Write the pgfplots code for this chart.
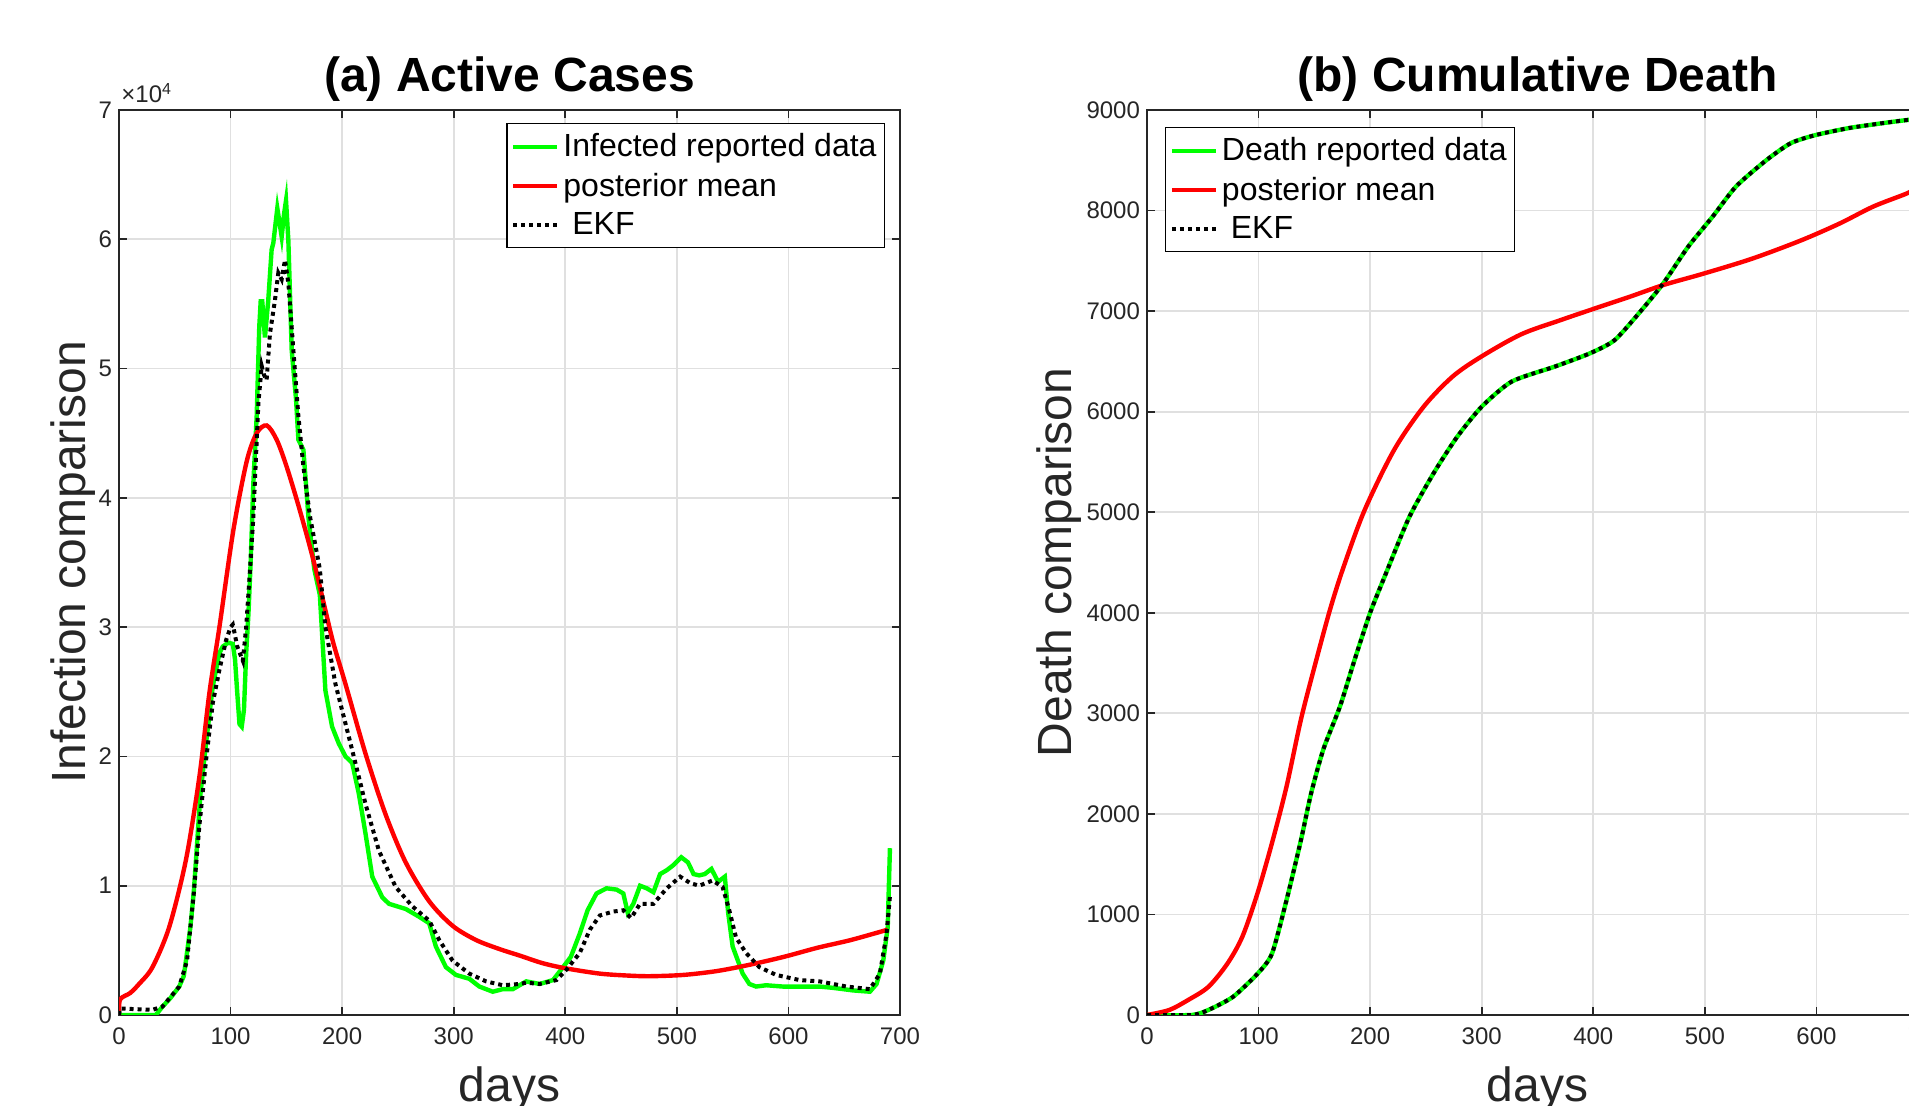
\documentclass[border=0pt]{standalone}
\usepackage{fontspec}
\setmainfont{Liberation Sans}
\usepackage{pgfplots}
\pgfplotsset{compat=1.18}
\definecolor{mgreen}{rgb}{0,1,0}
\definecolor{mred}{rgb}{1,0,0}
\definecolor{axgray}{rgb}{0.15,0.15,0.15}
\definecolor{gridgray}{rgb}{0.88,0.88,0.88}

\pgfplotsset{
  every axis title shift=0pt,
  mystyle/.style={
    scale only axis, width=390.5pt, height=452.5pt,
    clip mode=individual,
    xmin=0, xmax=700, xtick={0,100,...,700},
    axis line style={draw=axgray, line width=0.9pt},
    tick style={draw=axgray, line width=0.9pt},
    tick align=inside, tick pos=both, major tick length=4pt,
    grid=major, major grid style={draw=gridgray, line width=0.9pt},
    /pgf/number format/assume math mode=true,
    /pgf/number format/1000 sep={},
    ticklabel style={font=\fontsize{12}{14}\selectfont, text=axgray},
    xticklabel style={yshift=-2.75pt},
    title style={at={(axis description cs:0.5,1.02)}, anchor=base, font=\bfseries\fontsize{24}{28}\selectfont, text=black},
    every axis x label/.style={at={(axis description cs:0.5,-0.0961)}, anchor=base, font=\fontsize{24}{28}\selectfont, text=axgray},
    legend cell align=left,
    legend style={draw=black, line width=0.6pt, fill=white, font=\fontsize{16}{19}\selectfont, inner xsep=2pt, inner ysep=3pt, row sep=2.6pt},
    legend image code/.code={\draw[##1] (0pt,0pt) -- (22pt,0pt);},
  },
  grn/.style={color=mgreen, line width=2.2pt},
  rd/.style={color=mred, line width=2.2pt},
  ekf/.style={color=black, line width=2pt, dash pattern=on 2pt off 2pt},
}

\begin{document}
\begin{tikzpicture}
\useasboundingbox (0,0) rectangle (954.5pt,553pt);
\clip (0,0) rectangle (954.5pt,553pt);

\begin{axis}[mystyle, at={(59.5pt,45.5pt)}, anchor=south west,
  ymin=0, ymax=7, ytick={0,1,...,7},
  title={(a) Active Cases}, xlabel={days}, ylabel={Infection comparison},
  every axis y label/.style={at={(axis description cs:-0.0435,0.5)}, anchor=base, rotate=90, font=\fontsize{24}{28}\selectfont, text=axgray},
  legend style={at={(axis description cs:0.981,0.9856)}, anchor=north east}]
\addplot[grn] table {
0 0
10 0
20 0
33 0
39 0.065
46 0.13
54 0.22
58 0.30
60 0.42
64 0.68
67 0.95
69 1.2
73 1.71
78 2.1
84 2.54
90 2.8
93 2.85
98 2.88
102 2.87
104 2.75
106 2.49
108 2.25
110 2.23
112 2.36
114 2.8
116 3.1
118 3.5
120.4 4.11
123.4 4.63
125.7 5.32
127 5.52
128.4 5.52
130.8 5.24
133.8 5.53
136.8 5.92
138.3 5.97
141.9 6.24
143.5 6.15
145.8 6.02
148 6.2
149.7 6.30
151.8 5.99
154.8 5.14
158.7 4.76
160.8 4.45
165.3 4.37
169.8 3.85
175 3.45
180 3.25
185 2.51
191 2.23
197 2.1
203 2.0
209 1.95
215 1.71
221 1.40
227 1.07
236 0.91
242 0.86
257 0.82
269 0.76
278 0.71
284 0.53
293 0.37
302 0.31
314 0.28
323 0.22
335 0.18
344 0.20
353 0.20
365 0.26
377 0.24
389 0.27
398 0.37
405 0.45
413 0.63
420 0.81
428 0.94
437 0.98
446 0.97
452 0.94
456 0.79
461 0.86
467 1.0
473 0.98
479 0.95
485 1.09
491 1.12
497 1.16
504 1.22
510 1.18
515 1.09
520 1.08
525 1.09
531 1.13
537 1.03
543 1.07
546 0.79
550 0.53
559 0.32
565 0.24
571 0.22
580 0.23
595 0.22
610 0.22
628 0.22
640 0.21
658 0.19
673 0.18
679 0.24
685 0.42
689 0.68
690 0.99
691 1.29
};
\addplot[rd, smooth, tension=0.5] table {
0 0
1 0.12
10 0.17
18 0.24
30 0.37
45 0.68
60 1.2
72 1.84
81 2.49
90 3.0
102.5 3.75
114.4 4.28
123.4 4.5
132.4 4.56
141.3 4.45
150.3 4.24
162.2 3.90
174.2 3.52
185 3.13
192 2.88
203 2.56
221 2.02
239 1.55
257 1.18
278 0.88
299 0.69
320 0.58
341 0.51
359 0.46
380 0.40
401 0.36
431 0.32
456 0.305
476 0.30
506 0.31
536 0.34
566 0.39
596 0.45
626 0.52
656 0.58
689 0.66
};
\addplot[ekf] table {
0 0
1 0.05
30 0.04
39 0.065
54 0.22
61 0.42
67 0.94
72 1.46
78 1.97
84 2.41
90 2.67
96 2.9
100 3.0
102 3.02
106 2.85
111 2.74
114 3.0
118 3.52
120.4 3.85
124.9 4.73
127.9 5.02
130 4.95
132.3 4.91
135.3 5.27
139.8 5.53
142.8 5.74
145.8 5.69
148.8 5.84
151.8 5.66
156.3 5.14
160.8 4.63
165.3 4.24
171.3 3.85
180 3.45
185 3.0
194 2.56
209 2.05
221 1.63
233 1.27
248 0.99
263 0.84
278 0.73
287 0.58
299 0.42
314 0.32
329 0.26
344 0.23
359 0.24
365 0.25
377 0.24
392 0.27
401 0.35
413 0.48
422 0.66
431 0.77
443 0.80
452 0.81
459 0.75
467 0.86
479 0.86
491 0.98
503 1.07
512 1.02
520 1.0
532 1.04
541 0.99
547 0.81
553 0.60
562 0.48
574 0.37
589 0.31
610 0.27
628 0.26
652 0.22
673 0.20
682 0.32
688 0.63
691 0.92
};
\legend{Infected reported data, posterior mean, {\ EKF}}
\node[anchor=base west, inner sep=0pt, yshift=3.5pt, xshift=1pt, font=\fontsize{12}{14}\selectfont, text=axgray] at (axis description cs:0,1) {×10\textsuperscript{4}};
\end{axis}

\begin{axis}[mystyle, at={(573.5pt,45.5pt)}, anchor=south west,
  ymin=0, ymax=9000, ytick={0,1000,...,9000},
  title={(b) Cumulative Death}, xlabel={days}, ylabel={Death comparison},
  every axis y label/.style={at={(axis description cs:-0.0973,0.5)}, anchor=base, rotate=90, font=\fontsize{24}{28}\selectfont, text=axgray},
  legend style={at={(axis description cs:0.023,0.981)}, anchor=north west}]
\pgfplotstableread{
d v
0 0
40 0
55 50
77 180
99 410
112 610
125 1140
138 1740
147 2200
158 2640
173 3070
186 3530
200 4000
213 4360
235 4950
257 5390
278 5750
300 6050
327 6300
366 6450
397 6580
419 6710
441 6980
463 7280
485 7640
507 7940
528 8240
555 8500
577 8670
599 8750
629 8820
660 8870
681 8900
690 8910
}\deathdata
\addplot[grn, smooth, tension=0.4] table[x=d,y=v] {\deathdata};
\addplot[rd, smooth, tension=0.5] table {
0 0
20 50
37 150
55 280
72 510
85.5 780
99 1210
112 1710
125 2270
138 2940
151 3500
164 4030
176 4450
195 5020
221.5 5620
248 6050
274 6350
300 6550
335.5 6770
370.6 6910
397 7010
432 7140
463 7260
498 7370
542 7520
585.5 7700
620.6 7870
651 8040
681 8170
690 8230
};
\addplot[ekf, smooth, tension=0.4] table[x=d,y=v] {\deathdata};
\legend{Death reported data, posterior mean, {\ EKF}}
\end{axis}
\end{tikzpicture}
\end{document}
